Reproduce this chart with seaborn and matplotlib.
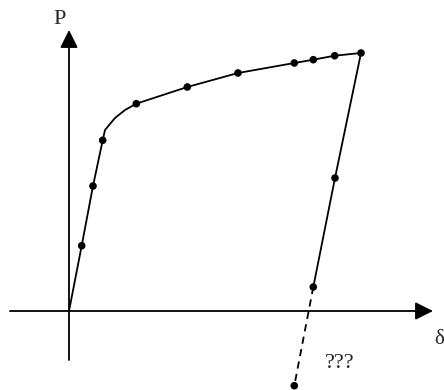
import numpy as np
import pandas as pd
import seaborn as sns
import matplotlib.pyplot as plt

# load path (delta, P); origin at the axes cross
curve_delta = [0, 12.7, 24, 33.7, 36, 46, 56, 67.3, 118.3, 169, 225.3, 244.3, 265.7, 292, 266, 244.3]
curve_p = [0, 65.3, 125, 170.7, 181, 193, 201, 207.3, 224, 238, 248, 251.3, 255.3, 258, 133, 24]

# measured points (dots)
pts_delta = [12.7, 24, 33.7, 67.3, 118.3, 169, 225.3, 244.3, 265.7, 292, 266, 244.3, 225.3]
pts_p = [65.3, 125, 170.7, 207.3, 224, 238, 248, 251.3, 255.3, 258, 133, 24, -74.7]

# unknown continuation of the unloading branch
dash_delta = [244.3, 225.3]
dash_p = [24, -74.7]

sns.set_style("white")
plt.rcParams["font.family"] = ["Liberation Serif", "DejaVu Serif"]

fig = plt.figure(figsize=(4.44, 3.9), dpi=100)
ax = fig.add_axes([0, 0, 1, 1])

curve = pd.DataFrame({"delta": curve_delta, "P": curve_p})
pts = pd.DataFrame({"delta": pts_delta, "P": pts_p})
dash = pd.DataFrame({"delta": dash_delta, "P": dash_p})

# axes with arrows
ax.annotate("", xy=(0, 281), xytext=(0, -49),
            arrowprops=dict(arrowstyle="-|>", mutation_scale=27, lw=1.3,
                            color="black", shrinkA=0, shrinkB=0))
ax.annotate("", xy=(364, 0), xytext=(-59, 0),
            arrowprops=dict(arrowstyle="-|>", mutation_scale=27, lw=1.3,
                            color="black", shrinkA=0, shrinkB=0))

sns.lineplot(data=curve, x="delta", y="P", sort=False, estimator=None,
             color="black", lw=1.3, ax=ax)
sns.lineplot(data=dash, x="delta", y="P", sort=False, estimator=None,
             color="black", lw=1.3, linestyle=(0, (4, 3)), ax=ax)
sns.scatterplot(data=pts, x="delta", y="P", color="black", s=30, edgecolor="none",
                zorder=5, ax=ax)

ax.text(-9, 291, "P", fontsize=16, ha="center", va="center")
ax.text(365, -29, "δ", fontsize=15, ha="left", va="center")
ax.text(271, -52, "???", fontsize=16, ha="center", va="center")

ax.set_xlim(-69, 375)
ax.set_ylim(-79, 311)
ax.axis("off")

fig.savefig("out.png", dpi=100)
